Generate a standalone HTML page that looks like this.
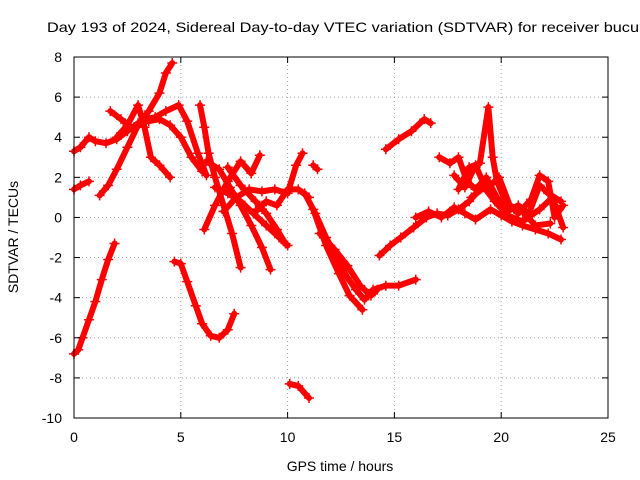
<!DOCTYPE html>
<html><head><meta charset="utf-8"><style>
body{margin:0;background:#fff;}
svg{display:block;font-family:"Liberation Sans",sans-serif;}
</style></head><body>
<svg id="chart" width="640" height="480">
<rect width="640" height="480" fill="#fff"/>
<text x="47" y="32" font-size="14" textLength="592" lengthAdjust="spacingAndGlyphs" fill="#000">Day 193 of 2024, Sidereal Day-to-day VTEC variation (SDTVAR) for receiver bucu</text>
<g id="grid"></g>
<g id="series"></g>
<rect x="74" y="57" width="534" height="361" fill="none" stroke="#000" stroke-width="1"/>
<g id="ticks"></g>
<text x="340" y="471" font-size="14" text-anchor="middle">GPS time / hours</text>
<text x="0" y="0" font-size="14" text-anchor="middle" transform="translate(18,237) rotate(-90)">SDTVAR / TECUs</text>
</svg>
<script>
const xTicks=[0,5,10,15,20,25];
const yTicks=[8,6,4,2,0,-2,-4,-6,-8,-10];
const tracks=[
[[0,-6.8],[0.2,-6.6],[0.4,-6.0],[0.7,-5.1],[1.0,-4.2],[1.3,-3.1],[1.6,-2.1],[1.9,-1.3]],
[[0,1.4],[0.3,1.6],[0.7,1.8]],
[[0,3.3],[0.3,3.5],[0.7,4.0],[1.0,3.8],[1.5,3.7],[2.0,3.9],[2.5,4.3],[3.0,4.7],[3.5,4.8],[4.0,4.9],[4.5,4.6],[5.0,4.0],[5.5,3.0],[6.0,2.3]],
[[1.2,1.1],[1.6,1.6],[2.0,2.4],[2.5,3.5],[3.0,4.6],[3.5,5.3],[4.0,6.2],[4.3,7.2],[4.6,7.7]],
[[1.7,5.3],[2.2,4.9],[2.8,4.4],[3.3,4.9],[3.8,5.0],[4.3,5.3],[4.9,5.6],[5.3,4.8],[5.8,3.2],[6.2,2.1]],
[[2.0,4.0],[2.5,4.6],[3.0,5.6],[3.3,4.5],[3.6,3.0],[4.0,2.6],[4.5,2.0]],
[[4.7,-2.2],[5.0,-2.3],[5.3,-3.2],[5.7,-4.4],[6.0,-5.3],[6.4,-5.9],[6.8,-6.0],[7.2,-5.6],[7.5,-4.8]],
[[5.9,5.6],[6.1,4.5],[6.3,3.2],[6.6,2.0],[7.0,0.6],[7.4,-0.8],[7.8,-2.5]],
[[6.1,-0.6],[6.6,0.6],[7.2,1.8],[7.8,2.8],[8.3,2.2],[8.7,3.1]],
[[6.2,2.8],[6.8,2.4],[7.3,1.5],[7.8,0.6],[8.3,-0.4],[8.8,-1.5],[9.2,-2.6]],
[[6.6,1.5],[7.2,1.2],[7.8,0.8],[8.4,0.2],[9.0,-0.4],[9.6,-1.0],[10.0,-1.4]],
[[7.0,0.3],[7.6,1.0],[8.2,1.4],[8.8,1.3],[9.4,1.4],[10.0,1.2],[10.4,2.6],[10.7,3.2]],
[[7.2,2.5],[7.8,1.6],[8.5,0.8],[9.0,0.2],[9.5,-0.6],[9.9,-1.3]],
[[8.5,0.3],[9.0,0.8],[9.5,0.6],[10.0,1.4],[10.5,1.4],[11.0,1.0]],
[[11.2,2.6],[11.4,2.4]],
[[10.1,-8.3],[10.5,-8.4],[11.0,-9.0]],
[[10.8,1.2],[11.3,0.2],[11.8,-1.0],[12.3,-2.0],[12.8,-3.0],[13.2,-3.6],[13.6,-4.1],[14.0,-3.6],[14.6,-3.4],[15.2,-3.4],[16.0,-3.1]],
[[11.2,0.4],[11.8,-1.4],[12.4,-2.8],[12.9,-3.9],[13.5,-4.6]],
[[11.5,-0.8],[12.2,-1.6],[12.8,-2.4],[13.4,-3.4],[13.9,-3.9],[14.2,-3.6]],
[[14.3,-1.9],[14.8,-1.4],[15.3,-1.0],[15.9,-0.5],[16.5,0.0],[17.0,0.2],[17.5,0.1],[18.0,0.4],[18.5,0.8],[19.0,1.4]],
[[14.6,3.4],[15.2,3.9],[15.8,4.3],[16.4,4.9],[16.7,4.7]],
[[17.1,3.0],[17.6,2.7],[18.0,3.0],[18.4,1.8],[18.8,1.4],[19.3,2.0],[19.8,1.0],[20.3,0.3],[20.8,0.6],[21.3,0.2],[21.8,1.6],[22.2,1.2],[22.8,0.8]],
[[16.0,0.0],[16.6,0.3],[17.2,0.0],[17.8,0.5],[18.3,0.2],[18.8,-0.1],[19.5,0.4],[20.0,0.1],[20.5,-0.2],[21.0,-0.4],[21.6,-0.6],[22.2,-0.8],[22.8,-1.1]],
[[18.0,1.4],[18.5,2.5],[19.0,2.7],[19.4,5.5],[19.6,3.0],[19.8,1.8],[20.2,0.8],[20.8,0.2],[21.4,0.9],[21.8,2.1],[22.2,1.8],[22.5,0.0],[22.9,0.6]],
[[18.6,1.0],[19.2,1.5],[19.7,0.8],[20.3,0.1],[21.0,-0.2],[21.8,0.4],[22.4,1.0],[22.9,-0.5]],
[[17.8,2.1],[18.3,1.5],[18.8,2.6],[19.3,1.4],[19.9,2.0],[20.4,0.6],[21.0,0.3],[21.6,-0.4],[22.3,-0.3]]
];
const NS='http://www.w3.org/2000/svg';
const X0=74,X1=608,Y0=418,Y1=57;
function xs(h){return X0+(h-0)/(25-0)*(X1-X0);}
function ys(v){return Y0-(v+10)/18*(Y0-Y1);}
function mk(t,a,p){const e=document.createElementNS(NS,t);for(const k in a)e.setAttribute(k,a[k]);p.appendChild(e);return e;}
const grid=document.getElementById('grid'),ticks=document.getElementById('ticks'),ser=document.getElementById('series');
xTicks.forEach(t=>{const x=xs(t);
 if(t>0&&t<25){const l=mk('line',{x1:x,x2:x,y1:Y1,y2:Y0,stroke:'#a0a0a0','stroke-dasharray':'1,3'},grid);}
 mk('line',{x1:x,x2:x,y1:Y0,y2:Y0-6,stroke:'#000'},ticks);mk('line',{x1:x,x2:x,y1:Y1,y2:Y1+6,stroke:'#000'},ticks);
 const tx=mk('text',{x:x,y:Y0+24,'font-size':14,'text-anchor':'middle'},ticks);tx.textContent=t;
 });
yTicks.forEach(t=>{const y=ys(t);
 if(t>-10&&t<8){const l=mk('line',{x1:X0,x2:X1,y1:y,y2:y,stroke:'#a0a0a0','stroke-dasharray':'1,3'},grid);}
 mk('line',{x1:X0,x2:X0+6,y1:y,y2:y,stroke:'#000'},ticks);mk('line',{x1:X1,x2:X1-6,y1:y,y2:y,stroke:'#000'},ticks);
 const tx=mk('text',{x:X0-12,y:y+5,'font-size':14,'text-anchor':'end'},ticks);tx.textContent=t;
 });
tracks.forEach((tr,i)=>{
 const pts=tr.map(p=>xs(p[0])+','+ys(p[1])).join(' ');
 const pl=mk('polyline',{points:pts,fill:'none',stroke:'#ff0000','stroke-width':6,'stroke-linejoin':'round','stroke-linecap':'round'},ser);
 
 
 tr.forEach(p=>{const x=xs(p[0]),y=ys(p[1]);
  const m=mk('path',{d:`M${x-5},${y}H${x+5}M${x},${y-5}V${y+5}`,stroke:'#ff0000','stroke-width':1.5},ser);
  
  });
});
</script>
</body></html>
